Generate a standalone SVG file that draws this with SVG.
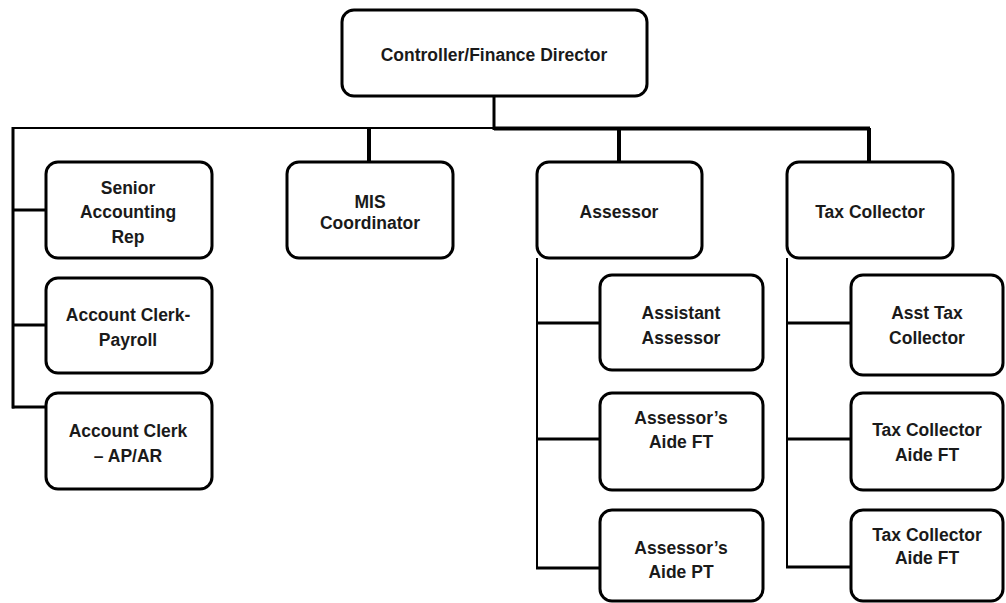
<svg xmlns="http://www.w3.org/2000/svg" width="1006" height="603" viewBox="0 0 1006 603">
<style>
.box{fill:#fff;stroke:#000;stroke-width:3}
.t{font-family:"Liberation Sans",Arial,sans-serif;font-weight:bold;font-size:17.5px;fill:#1a1a1a;text-anchor:middle}
.c{fill:none;stroke:#000;stroke-width:3}
.cthin{fill:none;stroke:#000;stroke-width:2}
.cthick{fill:none;stroke:#000;stroke-width:4}
</style>
<rect width="1006" height="603" fill="#fff"/>
<g id="connectors">
<line class="cthin" x1="13" y1="128" x2="494" y2="128"/>
<line class="cthick" x1="494" y1="128.5" x2="870" y2="128.5"/>
<line class="c" x1="494" y1="96" x2="494" y2="130"/>
<line class="c" x1="13" y1="127" x2="13" y2="408.5"/>
<line class="c" x1="12" y1="210" x2="46" y2="210"/>
<line class="c" x1="12" y1="325" x2="46" y2="325"/>
<line class="c" x1="12" y1="407" x2="46" y2="407"/>
<line class="cthick" x1="369" y1="128" x2="369" y2="162"/>
<line class="cthick" x1="619" y1="128" x2="619" y2="162"/>
<line class="cthick" x1="869" y1="128" x2="869" y2="162"/>
<line class="cthin" x1="537" y1="258" x2="537" y2="569"/>
<line class="c" x1="536" y1="323" x2="600" y2="323"/>
<line class="c" x1="536" y1="439" x2="600" y2="439"/>
<line class="c" x1="536" y1="568" x2="600" y2="568"/>
<line class="cthin" x1="787" y1="258" x2="787" y2="568"/>
<line class="c" x1="786" y1="323" x2="851" y2="323"/>
<line class="c" x1="786" y1="439" x2="851" y2="439"/>
<line class="c" x1="786" y1="567" x2="851" y2="567"/>
</g>
<g id="n_controller"><rect class="box" x="342" y="10" width="305" height="86" rx="12"/><text class="t" x="494" y="61">Controller/Finance Director</text></g>
<g id="n_senior"><rect class="box" x="46" y="162" width="166" height="96" rx="12"/><text class="t" x="128" y="194">Senior</text><text class="t" x="128" y="218">Accounting</text><text class="t" x="128" y="243">Rep</text></g>
<g id="n_payroll"><rect class="box" x="46" y="278" width="166" height="95" rx="12"/><text class="t" x="128" y="321">Account Clerk-</text><text class="t" x="128" y="346">Payroll</text></g>
<g id="n_apar"><rect class="box" x="46" y="393" width="166" height="96" rx="12"/><text class="t" x="128" y="437">Account Clerk</text><text class="t" x="128" y="462">– AP/AR</text></g>
<g id="n_mis"><rect class="box" x="287" y="162" width="166" height="96" rx="12"/><text class="t" x="370" y="208">MIS</text><text class="t" x="370" y="229">Coordinator</text></g>
<g id="n_assessor"><rect class="box" x="537" y="162" width="165" height="96" rx="12"/><text class="t" x="619" y="218">Assessor</text></g>
<g id="n_asst_assessor"><rect class="box" x="600" y="275" width="163" height="95" rx="12"/><text class="t" x="681" y="319">Assistant</text><text class="t" x="681" y="344">Assessor</text></g>
<g id="n_aide_ft"><rect class="box" x="600" y="393" width="163" height="97" rx="12"/><text class="t" x="681" y="424">Assessor’s</text><text class="t" x="681" y="448">Aide FT</text></g>
<g id="n_aide_pt"><rect class="box" x="600" y="510" width="163" height="91" rx="12"/><text class="t" x="681" y="554">Assessor’s</text><text class="t" x="681" y="578">Aide PT</text></g>
<g id="n_tax"><rect class="box" x="787" y="162" width="166" height="96" rx="12"/><text class="t" x="870" y="218">Tax Collector</text></g>
<g id="n_asst_tax"><rect class="box" x="851" y="275" width="152" height="100" rx="12"/><text class="t" x="927" y="319">Asst Tax</text><text class="t" x="927" y="344">Collector</text></g>
<g id="n_tax_aide1"><rect class="box" x="851" y="393" width="152" height="97" rx="12"/><text class="t" x="927" y="436">Tax Collector</text><text class="t" x="927" y="461">Aide FT</text></g>
<g id="n_tax_aide2"><rect class="box" x="851" y="510" width="152" height="91" rx="12"/><text class="t" x="927" y="541">Tax Collector</text><text class="t" x="927" y="564">Aide FT</text></g>
</svg>
